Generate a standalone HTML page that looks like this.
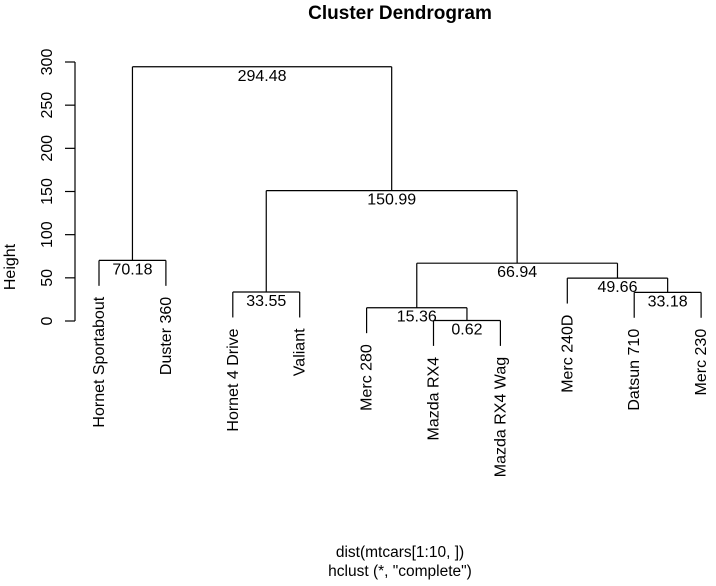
<!DOCTYPE html>
<html><head><meta charset="utf-8"><style>
body{margin:0;background:#fff}
svg text{font-family:"Liberation Sans",sans-serif;fill:#000}
</style></head><body>
<svg id="c" width="716" height="581" xmlns="http://www.w3.org/2000/svg">
<text x="400" y="19" font-size="19" font-weight="bold" text-anchor="middle">Cluster Dendrogram</text>
<text x="400" y="557" font-size="15.5" text-anchor="middle">dist(mtcars[1:10, ])</text>
<text x="400" y="576" font-size="15.5" text-anchor="middle">hclust (*, "complete")</text>
<text transform="translate(15,267) rotate(-90)" font-size="16" text-anchor="middle">Height</text>
<g id="axis"></g>
<g id="tree"></g>
</svg>
<script>
const leafLabels=["Hornet Sportabout","Duster 360","Hornet 4 Drive","Valiant","Merc 280","Mazda RX4","Mazda RX4 Wag","Merc 240D","Datsun 710","Merc 230"];
// merges: children are leaf indices (>=0) or -(k+1) for merge k
const mergeLeft=[5,8,2,4,7,0,-4,-3,-6];
const mergeRight=[6,9,3,-1,-2,1,-5,-7,-8];
const mergeHeights=[0.62,33.18,33.55,15.36,49.66,70.18,66.94,150.99,294.48];
const yTicks=[0,50,100,150,200,250,300];
const NS="http://www.w3.org/2000/svg";
const x0=99,dx=66.9,yBase=321,pxPerUnit=259/300;
const X=i=>x0+i*dx, Y=v=>yBase-v*pxPerUnit;
const hang=0.1*Math.max(...mergeHeights);
function mk(tag,attrs,parent){const e=document.createElementNS(NS,tag);for(const k in attrs)e.setAttribute(k,attrs[k]);parent.appendChild(e);return e;}
const axis=document.getElementById('axis'),tree=document.getElementById('tree');
const ln={stroke:"#000","stroke-width":1.2,fill:"none"};
let l=mk('line',Object.assign({x1:75,x2:75,y1:Y(0),y2:Y(300)},ln),axis);


yTicks.forEach(t=>{
 const tk=mk('line',Object.assign({x1:65,x2:75,y1:Y(t),y2:Y(t)},ln),axis);
 
 
 const tx=mk('text',{transform:`translate(52,${Y(t)}) rotate(-90)`,"font-size":16,"text-anchor":"middle"},axis);
 tx.textContent=t;
 
 
});
const nodeX=[];
function info(c){ if(c>=0) return {x:X(c),h:null,leaf:c}; const k=-c-1; return {x:nodeX[k],h:mergeHeights[k],leaf:null}; }
mergeHeights.forEach((h,k)=>{
 const a=info(mergeLeft[k]),b=info(mergeRight[k]);
 nodeX[k]=(a.x+b.x)/2;
 const yh=Y(h);
 [a,b].forEach(ch=>{
  const yb=ch.leaf!==null?Y(h-hang):Y(ch.h);
  const v=mk('line',Object.assign({x1:ch.x,x2:ch.x,y1:yh,y2:yb},ln),tree);
  
  
  if(ch.leaf!==null){
   const t=mk('text',{transform:`translate(${ch.x+5},${yb+11}) rotate(-90)`,"font-size":16,"text-anchor":"end"},tree);
   t.textContent=leafLabels[ch.leaf];
   
   
  }
 });
 const hz=mk('line',Object.assign({x1:a.x,x2:b.x,y1:yh,y2:yh},ln),tree);
 
 
 const ht=mk('text',{x:nodeX[k],y:yh+14,"font-size":16,"text-anchor":"middle"},tree);
 ht.textContent=h.toFixed(2);
 
 
});
</script>
</body></html>
